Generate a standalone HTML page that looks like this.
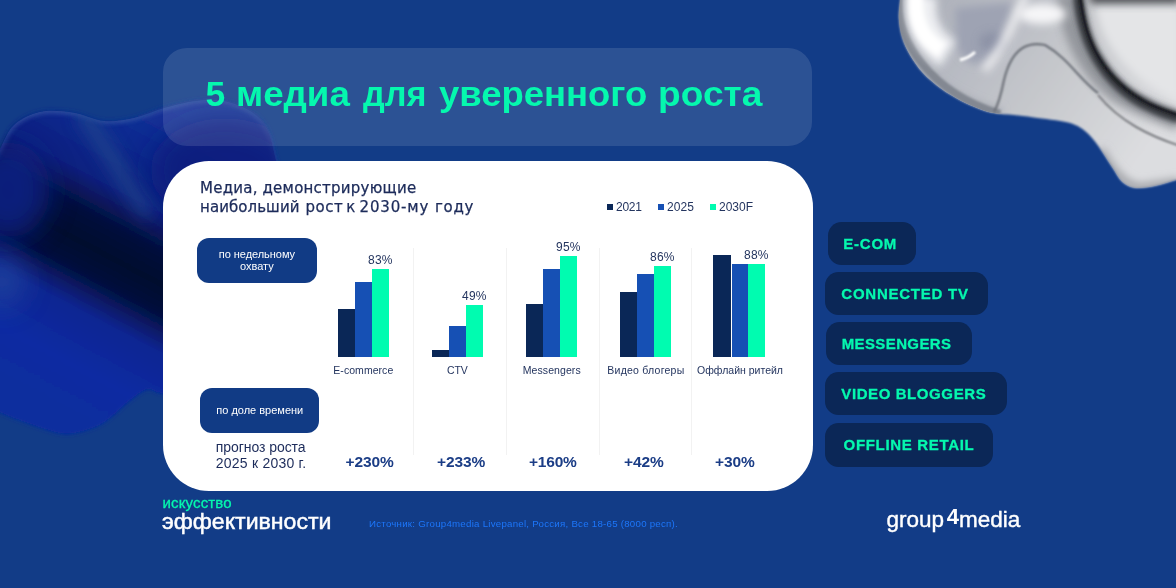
<!DOCTYPE html>
<html lang="ru">
<head>
<meta charset="utf-8">
<title>5 медиа для уверенного роста</title>
<style>
html,body{margin:0;padding:0;}
body{width:1176px;height:588px;overflow:hidden;background:#123c87;font-family:"Liberation Sans",sans-serif;}
#stage{position:relative;width:1176px;height:588px;overflow:hidden;background:#123c87;}
.abs{position:absolute;}
.t{position:absolute;white-space:nowrap;line-height:1;color:#1c2b5a;transform-origin:0 50%;}
#bg{position:absolute;left:0;top:0;width:1176px;height:588px;}
#titlebar{left:162.7px;top:47.5px;width:649.1px;height:98px;border-radius:24px;background:rgba(255,255,255,0.115);}
#card{left:163.2px;top:161px;width:650.3px;height:329.7px;border-radius:46px;background:#fff;}
.pillb{background:#113b85;border-radius:12px;}
.d{background:#0a2757;}
.b{background:#1650b4;}
.g{background:#00fcb0;}
.grid{position:absolute;width:1px;top:248px;height:207px;background:#f2f2f2;}
.tag{position:absolute;background:#0b2757;border-radius:13.5px;height:43.2px;}
</style>
</head>
<body>
<div id="stage">
<svg id="bg" viewBox="0 0 1176 588" width="1176" height="588">
<defs>
<filter id="b1" filterUnits="userSpaceOnUse" x="-100" y="-100" width="1400" height="800"><feGaussianBlur stdDeviation="1.2"/></filter>
<filter id="b4" filterUnits="userSpaceOnUse" x="-100" y="-100" width="1400" height="800"><feGaussianBlur stdDeviation="4"/></filter>
<filter id="b8" filterUnits="userSpaceOnUse" x="-100" y="-100" width="1400" height="800"><feGaussianBlur stdDeviation="8"/></filter>
<filter id="b14" filterUnits="userSpaceOnUse" x="-100" y="-100" width="1400" height="800"><feGaussianBlur stdDeviation="14"/></filter>
<filter id="b22" filterUnits="userSpaceOnUse" x="-100" y="-100" width="1400" height="800"><feGaussianBlur stdDeviation="22"/></filter>
<filter id="b3" filterUnits="userSpaceOnUse" x="-100" y="-100" width="1400" height="800"><feGaussianBlur stdDeviation="2.6"/></filter>
<clipPath id="lowclip"><rect x="-20" y="330" width="320" height="140"/></clipPath>
<clipPath id="blobclip"><path d="M-12.0,172.0C-10.0,168.2 -4.3,156.8 0.0,149.0C4.3,141.2 7.3,131.2 14.0,125.0C20.7,118.8 30.3,114.1 40.0,112.0C49.7,109.9 61.3,111.0 72.0,112.5C82.7,114.0 93.7,120.1 104.0,121.0C114.3,121.9 123.7,120.2 134.0,118.0C144.3,115.8 155.0,110.4 166.0,107.5C177.0,104.6 189.7,101.4 200.0,100.5C210.3,99.6 219.2,99.9 228.0,102.0C236.8,104.1 246.3,108.2 253.0,113.0C259.7,117.8 264.2,123.2 268.0,131.0C271.8,138.8 273.2,148.5 276.0,160.0C278.8,171.5 283.5,193.3 285.0,200.0 L285,395C270.8,395.2 220.5,396.3 200.0,396.0C179.5,395.7 170.8,394.2 162.0,393.0C153.2,391.8 152.6,387.7 147.0,389.0C141.4,390.3 135.7,395.5 128.5,401.0C121.3,406.5 112.1,416.9 104.0,422.0C95.9,427.1 87.2,429.8 80.0,431.6C72.8,433.4 69.2,434.3 61.0,433.0C52.8,431.7 41.2,427.5 31.0,424.0C20.8,420.5 7.2,415.2 0.0,412.0C-7.2,408.8 -10.0,406.2 -12.0,405.0 Z"/></clipPath>
<clipPath id="chclip"><path d="M900.0,-12.0C900.0,-10.0 900.2,-5.0 900.0,0.0C899.8,5.0 898.5,11.4 898.8,17.7C899.1,24.0 900.1,31.4 902.0,37.6C903.9,43.8 906.5,49.1 910.0,55.0C913.5,60.9 917.8,67.4 923.0,73.0C928.2,78.6 934.7,83.9 941.0,88.5C947.3,93.1 954.8,97.4 961.0,100.7C967.2,104.0 973.0,106.4 978.5,108.4C984.0,110.5 988.1,111.9 994.0,113.0C999.9,114.1 1007.3,114.3 1014.0,115.0C1020.7,115.7 1025.0,116.2 1034.0,117.4C1043.0,118.7 1059.5,120.2 1068.0,122.5C1076.5,124.8 1079.9,127.0 1085.0,131.0C1090.1,135.0 1094.2,140.4 1098.7,146.4C1103.2,152.4 1108.0,160.9 1112.0,166.8C1116.0,172.7 1118.5,178.5 1122.5,182.0C1126.5,185.5 1130.3,187.4 1136.0,188.0C1141.7,188.6 1149.9,186.8 1156.6,185.5C1163.3,184.2 1170.4,181.6 1176.0,180.0C1181.6,178.4 1187.7,176.7 1190.0,176.0 L1190,-12 Z"/></clipPath>
<linearGradient id="blobg" gradientUnits="userSpaceOnUse" x1="175" y1="111" x2="25" y2="393">
<stop offset="0" stop-color="#15349a"/><stop offset="0.15" stop-color="#0e2a90"/><stop offset="0.30" stop-color="#0a2080"/><stop offset="0.41" stop-color="#050f3c"/><stop offset="0.5" stop-color="#030a2e"/><stop offset="0.58" stop-color="#050f3c"/><stop offset="0.69" stop-color="#0a2592"/><stop offset="0.85" stop-color="#0c2ba2"/><stop offset="1" stop-color="#0d2e9e"/>
</linearGradient>
<linearGradient id="chg" x1="0" y1="0" x2="1" y2="0.5">
<stop offset="0" stop-color="#a9adb6"/><stop offset="0.35" stop-color="#b9bcc4"/><stop offset="0.6" stop-color="#c6c8cc"/><stop offset="1" stop-color="#dcdde0"/>
</linearGradient>
</defs>
<g filter="url(#b3)"><path d="M-12.0,172.0C-10.0,168.2 -4.3,156.8 0.0,149.0C4.3,141.2 7.3,131.2 14.0,125.0C20.7,118.8 30.3,114.1 40.0,112.0C49.7,109.9 61.3,111.0 72.0,112.5C82.7,114.0 93.7,120.1 104.0,121.0C114.3,121.9 123.7,120.2 134.0,118.0C144.3,115.8 155.0,110.4 166.0,107.5C177.0,104.6 189.7,101.4 200.0,100.5C210.3,99.6 219.2,99.9 228.0,102.0C236.8,104.1 246.3,108.2 253.0,113.0C259.7,117.8 264.2,123.2 268.0,131.0C271.8,138.8 273.2,148.5 276.0,160.0C278.8,171.5 283.5,193.3 285.0,200.0 L285,395C270.8,395.2 220.5,396.3 200.0,396.0C179.5,395.7 170.8,394.2 162.0,393.0C153.2,391.8 152.6,387.7 147.0,389.0C141.4,390.3 135.7,395.5 128.5,401.0C121.3,406.5 112.1,416.9 104.0,422.0C95.9,427.1 87.2,429.8 80.0,431.6C72.8,433.4 69.2,434.3 61.0,433.0C52.8,431.7 41.2,427.5 31.0,424.0C20.8,420.5 7.2,415.2 0.0,412.0C-7.2,408.8 -10.0,406.2 -12.0,405.0 Z" fill="url(#blobg)"/></g>
<g filter="url(#b1)" clip-path="url(#lowclip)"><path d="M-12.0,172.0C-10.0,168.2 -4.3,156.8 0.0,149.0C4.3,141.2 7.3,131.2 14.0,125.0C20.7,118.8 30.3,114.1 40.0,112.0C49.7,109.9 61.3,111.0 72.0,112.5C82.7,114.0 93.7,120.1 104.0,121.0C114.3,121.9 123.7,120.2 134.0,118.0C144.3,115.8 155.0,110.4 166.0,107.5C177.0,104.6 189.7,101.4 200.0,100.5C210.3,99.6 219.2,99.9 228.0,102.0C236.8,104.1 246.3,108.2 253.0,113.0C259.7,117.8 264.2,123.2 268.0,131.0C271.8,138.8 273.2,148.5 276.0,160.0C278.8,171.5 283.5,193.3 285.0,200.0 L285,395C270.8,395.2 220.5,396.3 200.0,396.0C179.5,395.7 170.8,394.2 162.0,393.0C153.2,391.8 152.6,387.7 147.0,389.0C141.4,390.3 135.7,395.5 128.5,401.0C121.3,406.5 112.1,416.9 104.0,422.0C95.9,427.1 87.2,429.8 80.0,431.6C72.8,433.4 69.2,434.3 61.0,433.0C52.8,431.7 41.2,427.5 31.0,424.0C20.8,420.5 7.2,415.2 0.0,412.0C-7.2,408.8 -10.0,406.2 -12.0,405.0 Z" fill="url(#blobg)"/></g>
<g clip-path="url(#blobclip)">
<path d="M-12.0,172.0C-10.0,168.2 -4.3,156.8 0.0,149.0C4.3,141.2 7.3,131.2 14.0,125.0C20.7,118.8 30.3,114.1 40.0,112.0C49.7,109.9 61.3,111.0 72.0,112.5C82.7,114.0 93.7,120.1 104.0,121.0C114.3,121.9 123.7,120.2 134.0,118.0C144.3,115.8 155.0,110.4 166.0,107.5C177.0,104.6 189.7,101.4 200.0,100.5C210.3,99.6 219.2,99.9 228.0,102.0C236.8,104.1 246.3,108.2 253.0,113.0C259.7,117.8 264.2,123.2 268.0,131.0C271.8,138.8 273.2,148.5 276.0,160.0C278.8,171.5 283.5,193.3 285.0,200.0" fill="none" stroke="#4a6ab6" stroke-width="3.5" filter="url(#b3)" opacity="0.7"/>
<path d="M80,112 C100,135 120,175 150,215" fill="none" stroke="#24488e" stroke-width="16" filter="url(#b8)" opacity="0.75"/>
<ellipse cx="225" cy="170" rx="75" ry="52" fill="#081c7c" filter="url(#b14)" opacity="0.85"/>
<ellipse cx="8" cy="190" rx="42" ry="48" fill="#0b2388" filter="url(#b14)" opacity="0.85"/>
<ellipse cx="2" cy="282" rx="22" ry="24" fill="#264b9e" filter="url(#b14)" opacity="0.7"/>
</g>
<g filter="url(#b1)"><path d="M900.0,-12.0C900.0,-10.0 900.2,-5.0 900.0,0.0C899.8,5.0 898.5,11.4 898.8,17.7C899.1,24.0 900.1,31.4 902.0,37.6C903.9,43.8 906.5,49.1 910.0,55.0C913.5,60.9 917.8,67.4 923.0,73.0C928.2,78.6 934.7,83.9 941.0,88.5C947.3,93.1 954.8,97.4 961.0,100.7C967.2,104.0 973.0,106.4 978.5,108.4C984.0,110.5 988.1,111.9 994.0,113.0C999.9,114.1 1007.3,114.3 1014.0,115.0C1020.7,115.7 1025.0,116.2 1034.0,117.4C1043.0,118.7 1059.5,120.2 1068.0,122.5C1076.5,124.8 1079.9,127.0 1085.0,131.0C1090.1,135.0 1094.2,140.4 1098.7,146.4C1103.2,152.4 1108.0,160.9 1112.0,166.8C1116.0,172.7 1118.5,178.5 1122.5,182.0C1126.5,185.5 1130.3,187.4 1136.0,188.0C1141.7,188.6 1149.9,186.8 1156.6,185.5C1163.3,184.2 1170.4,181.6 1176.0,180.0C1181.6,178.4 1187.7,176.7 1190.0,176.0 L1190,-12 Z" fill="url(#chg)"/></g>
<g clip-path="url(#chclip)">
<path d="M903,45 C918,82 955,106 1000,117" fill="none" stroke="#a3a7b0" stroke-width="16" filter="url(#b4)"/>
<path d="M899,-5 C895,40 930,92 1000,114" fill="none" stroke="#838892" stroke-width="8" filter="url(#b1)"/>
<path d="M955,8 L1012,2 C1008,30 1000,50 985,62 C975,68 962,60 956,45 Z" fill="#9ea3b3" filter="url(#b4)"/>
<ellipse cx="992" cy="42" rx="13" ry="10" fill="#8a90a4" filter="url(#b4)" opacity="0.8"/>
<path d="M922,-5 C918,22 928,42 948,54" fill="none" stroke="#f4f5f8" stroke-width="30" filter="url(#b4)" opacity="0.9"/>
<path d="M916,-5 C914,22 924,40 942,50" fill="none" stroke="#ffffff" stroke-width="15" filter="url(#b3)"/>
<path d="M960,60 C968,58 972,55 975,52" fill="none" stroke="#ffffff" stroke-width="3" filter="url(#b1)"/>
<path d="M1095,5 C1100,45 1130,80 1180,103 L1180,5 Z" fill="#e4e5e7" filter="url(#b4)"/>
<path d="M1066,-5 C1068,30 1086,70 1118,94 C1140,108 1160,114 1180,122" fill="none" stroke="#8e9197" stroke-width="18" filter="url(#b4)" opacity="0.9"/>
<path d="M1078,-5 C1081,25 1089,45 1097,58 C1110,80 1127,95 1147,105 C1160,112 1170,115 1180,118" fill="none" stroke="#34373d" stroke-width="11" filter="url(#b3)"/>
<path d="M1080,-5 C1083,25 1091,45 1099,58 C1112,80 1129,94 1149,104 C1162,110 1172,113 1180,116" fill="none" stroke="#15171a" stroke-width="2.5" filter="url(#b1)"/>
<path d="M1090,-3 L1180,-3" stroke="#44474c" stroke-width="12" filter="url(#b4)"/>
<ellipse cx="1042" cy="14" rx="24" ry="10" fill="#f6f6f8" filter="url(#b4)"/>
<path d="M1026,-5 C1014,20 1004,48 984,70" fill="none" stroke="#f2f2f4" stroke-width="7" filter="url(#b4)"/>
<path d="M1098,93 C1080,80 1068,58 1045,45 C1022,40 1010,55 1004,80 C1001,95 998,105 994,112" fill="none" stroke="#6c7078" stroke-width="2.2" filter="url(#b1)"/>
<path d="M1098,95 C1120,122 1150,136 1180,146" fill="none" stroke="#6f7176" stroke-width="1.8" filter="url(#b1)"/>
<path d="M1100,150 C1112,172 1125,186 1140,188 L1180,182" fill="none" stroke="#9c9ea3" stroke-width="8" filter="url(#b4)"/>
</g>
</svg>

<div id="titlebar" class="abs"></div>
<div id="card" class="abs"></div>

<!-- legend markers -->
<div class="abs d" style="left:606.9px;top:203.8px;width:6px;height:6px;"></div>
<div class="abs b" style="left:658.3px;top:203.8px;width:6.1px;height:6px;"></div>
<div class="abs g" style="left:709.9px;top:203.8px;width:6.1px;height:6px;"></div>

<!-- side pills -->
<div class="abs pillb" style="left:197px;top:238px;width:120px;height:45px;"></div>
<div class="abs pillb" style="left:199.5px;top:388px;width:119.5px;height:45px;"></div>

<!-- grid lines -->
<div class="grid" style="left:413.3px;"></div>
<div class="grid" style="left:506px;"></div>
<div class="grid" style="left:598.7px;"></div>
<div class="grid" style="left:691.2px;"></div>

<!-- bars: baseline 357 -->
<div class="abs d" style="left:338.3px;top:309.3px;width:16.7px;height:47.4px;"></div>
<div class="abs b" style="left:355px;top:281.7px;width:17px;height:75px;"></div>
<div class="abs g" style="left:372px;top:269.2px;width:17px;height:87.5px;"></div>

<div class="abs d" style="left:432px;top:350px;width:17px;height:6.7px;"></div>
<div class="abs b" style="left:449px;top:326.3px;width:17px;height:30.4px;"></div>
<div class="abs g" style="left:466px;top:305px;width:17px;height:51.7px;"></div>

<div class="abs d" style="left:526px;top:304px;width:17px;height:52.7px;"></div>
<div class="abs b" style="left:543px;top:269.3px;width:17px;height:87.4px;"></div>
<div class="abs g" style="left:560px;top:256px;width:17px;height:100.7px;"></div>

<div class="abs d" style="left:620px;top:292.3px;width:17px;height:64.4px;"></div>
<div class="abs b" style="left:637px;top:274px;width:17px;height:82.7px;"></div>
<div class="abs g" style="left:654px;top:266px;width:17px;height:90.7px;"></div>

<div class="abs d" style="left:713.3px;top:254.7px;width:17.4px;height:102px;"></div>
<div class="abs b" style="left:731.7px;top:263.7px;width:16.6px;height:93px;"></div>
<div class="abs g" style="left:748.3px;top:263.7px;width:17px;height:93px;"></div>

<!-- tags -->
<div class="tag" style="left:827.7px;top:222px;width:88px;"></div>
<div class="tag" style="left:825px;top:272px;width:163px;"></div>
<div class="tag" style="left:825.7px;top:322px;width:146.6px;"></div>
<div class="tag" style="left:825px;top:372px;width:181.7px;"></div>
<div class="tag" style="left:825px;top:423px;width:168px;height:44px;"></div>

<div class="t" style="left:205.50px;top:77px;font-size:35.5px;font-weight:bold;color:#05f8ae;">5</div>
<div class="t" style="left:235.80px;top:77px;font-size:35.5px;font-weight:bold;color:#05f8ae;transform:scaleX(1.034);">медиа</div>
<div class="t" style="left:363.00px;top:77px;font-size:35.5px;font-weight:bold;color:#05f8ae;transform:scaleX(0.964);">для</div>
<div class="t" style="left:439.00px;top:77px;font-size:35.5px;font-weight:bold;color:#05f8ae;transform:scaleX(1.027);">уверенного</div>
<div class="t" style="left:657.50px;top:77px;font-size:35.5px;font-weight:bold;color:#05f8ae;transform:scaleX(1.046);">роста</div>
<div class="t" style="left:200.00px;top:181px;font-size:15px;font-family:'DejaVu Sans','Liberation Sans',sans-serif;letter-spacing:0.23px;-webkit-text-stroke:0.25px #1c2b5a;">Медиа,</div>
<div class="t" style="left:262.50px;top:181px;font-size:15px;font-family:'DejaVu Sans','Liberation Sans',sans-serif;letter-spacing:0.24px;-webkit-text-stroke:0.25px #1c2b5a;">демонстрирующие</div>
<div class="t" style="left:200.00px;top:200px;font-size:15px;font-family:'DejaVu Sans','Liberation Sans',sans-serif;letter-spacing:0.07px;-webkit-text-stroke:0.25px #1c2b5a;">наибольший</div>
<div class="t" style="left:305.50px;top:200px;font-size:15px;font-family:'DejaVu Sans','Liberation Sans',sans-serif;letter-spacing:0.52px;-webkit-text-stroke:0.25px #1c2b5a;">рост</div>
<div class="t" style="left:346.30px;top:200px;font-size:15px;font-family:'DejaVu Sans','Liberation Sans',sans-serif;-webkit-text-stroke:0.25px #1c2b5a;">к</div>
<div class="t" style="left:359.50px;top:200px;font-size:15px;font-family:'DejaVu Sans','Liberation Sans',sans-serif;letter-spacing:0.84px;-webkit-text-stroke:0.25px #1c2b5a;">2030-му</div>
<div class="t" style="left:435.00px;top:200px;font-size:15px;font-family:'DejaVu Sans','Liberation Sans',sans-serif;letter-spacing:0.70px;-webkit-text-stroke:0.25px #1c2b5a;">году</div>
<div class="t" style="left:616.00px;top:201px;font-size:12px;color:#24355f;letter-spacing:-0.28px;">2021</div>
<div class="t" style="left:667.00px;top:201px;font-size:12px;color:#24355f;letter-spacing:0.09px;">2025</div>
<div class="t" style="left:719.00px;top:201px;font-size:12px;color:#24355f;">2030F</div>
<div class="t" style="left:218.75px;top:249px;font-size:11px;color:#fff;letter-spacing:-0.04px;">по недельному</div>
<div class="t" style="left:240.00px;top:261px;font-size:11px;color:#fff;">охвату</div>
<div class="t" style="left:216.25px;top:405px;font-size:11px;color:#fff;">по доле времени</div>
<div class="t" style="left:215.75px;top:440px;font-size:14px;letter-spacing:-0.06px;">прогноз роста</div>
<div class="t" style="left:215.75px;top:456px;font-size:14px;letter-spacing:0.23px;">2025 к 2030 г.</div>
<div class="t" style="left:368.00px;top:254px;font-size:12px;color:#24355f;letter-spacing:0.23px;">83%</div>
<div class="t" style="left:462.00px;top:290px;font-size:12px;color:#24355f;letter-spacing:0.23px;">49%</div>
<div class="t" style="left:556.00px;top:241px;font-size:12px;color:#24355f;letter-spacing:0.23px;">95%</div>
<div class="t" style="left:650.00px;top:251px;font-size:12px;color:#24355f;letter-spacing:0.23px;">86%</div>
<div class="t" style="left:744.00px;top:249px;font-size:12px;color:#24355f;letter-spacing:0.23px;">88%</div>
<div class="t" style="left:333.30px;top:365px;font-size:10.5px;color:#24355f;letter-spacing:0.05px;">E-commerce</div>
<div class="t" style="left:447.00px;top:365px;font-size:10.5px;color:#24355f;letter-spacing:-0.12px;">CTV</div>
<div class="t" style="left:522.70px;top:365px;font-size:10.5px;color:#24355f;letter-spacing:0.09px;">Messengers</div>
<div class="t" style="left:607.30px;top:365px;font-size:10.5px;color:#24355f;letter-spacing:0.24px;">Видео блогеры</div>
<div class="t" style="left:697.00px;top:365px;font-size:10.5px;color:#24355f;">Оффлайн ритейл</div>
<div class="t" style="left:345.50px;top:454px;font-size:15.5px;font-weight:bold;color:#1b3d86;letter-spacing:-0.09px;">+230%</div>
<div class="t" style="left:437.00px;top:454px;font-size:15.5px;font-weight:bold;color:#1b3d86;letter-spacing:-0.09px;">+233%</div>
<div class="t" style="left:529.00px;top:454px;font-size:15.5px;font-weight:bold;color:#1b3d86;letter-spacing:-0.20px;">+160%</div>
<div class="t" style="left:624.00px;top:454px;font-size:15.5px;font-weight:bold;color:#1b3d86;letter-spacing:-0.08px;">+42%</div>
<div class="t" style="left:715.00px;top:454px;font-size:15.5px;font-weight:bold;color:#1b3d86;letter-spacing:-0.08px;">+30%</div>
<div class="t" style="left:843.30px;top:236px;font-size:15px;font-weight:bold;color:#05f8ae;letter-spacing:0.76px;-webkit-text-stroke:0.3px #05f8ae;">E-COM</div>
<div class="t" style="left:841.30px;top:286px;font-size:15px;font-weight:bold;color:#05f8ae;letter-spacing:0.75px;-webkit-text-stroke:0.3px #05f8ae;">CONNECTED TV</div>
<div class="t" style="left:841.70px;top:336px;font-size:15px;font-weight:bold;color:#05f8ae;letter-spacing:0.39px;-webkit-text-stroke:0.3px #05f8ae;">MESSENGERS</div>
<div class="t" style="left:841.30px;top:386px;font-size:15px;font-weight:bold;color:#05f8ae;letter-spacing:0.59px;-webkit-text-stroke:0.3px #05f8ae;">VIDEO BLOGGERS</div>
<div class="t" style="left:843.60px;top:437px;font-size:15px;font-weight:bold;color:#05f8ae;letter-spacing:0.67px;-webkit-text-stroke:0.3px #05f8ae;">OFFLINE RETAIL</div>
<div class="t" style="left:162.60px;top:495px;font-size:15px;color:#05f8ae;letter-spacing:0.13px;-webkit-text-stroke:0.3px #05f8ae;">искусство</div>
<div class="t" style="left:162.30px;top:512px;font-size:21.5px;color:#fff;transform:scaleX(1.075);-webkit-text-stroke:0.45px #fff;">эффективности</div>
<div class="t" style="left:369.00px;top:519px;font-size:9.7px;color:#1c76fa;letter-spacing:0.25px;">Источник: Group4media Livepanel, Россия, Все 18-65 (8000 респ).</div>
<div class="t" style="left:886.50px;top:509px;font-size:22.5px;color:#fff;-webkit-text-stroke:0.4px #fff;">group</div>
<div class="t" style="left:946.80px;top:506px;font-size:22px;font-weight:bold;color:#fff;">4</div>
<div class="t" style="left:959.00px;top:509px;font-size:22.5px;color:#fff;-webkit-text-stroke:0.4px #fff;">media</div>
</div>
</body>
</html>
